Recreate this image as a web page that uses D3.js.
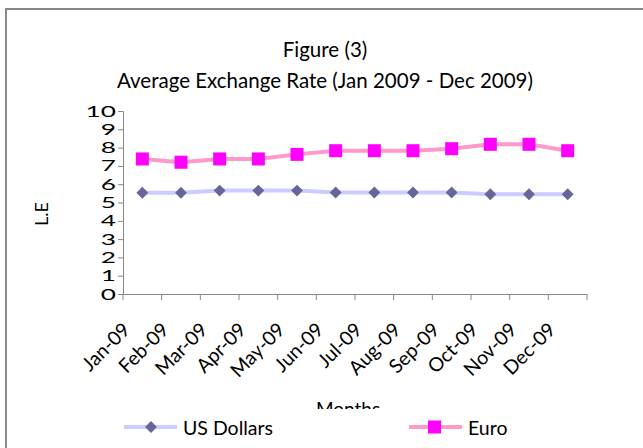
<!DOCTYPE html>
<html><head><meta charset="utf-8">
<script src="https://cdn.jsdelivr.net/npm/d3@7"></script>
<style>body{margin:0;background:#fff}svg{display:block}text{font-family:Lato,"Open Sans",sans-serif;fill:#000}</style>
</head><body><svg id="c" width="643" height="448"></svg>
<script>
const months = ["Jan-09","Feb-09","Mar-09","Apr-09","May-09","Jun-09","Jul-09","Aug-09","Sep-09","Oct-09","Nov-09","Dec-09"];
const usd = [5.53,5.53,5.65,5.65,5.65,5.55,5.55,5.55,5.55,5.45,5.45,5.45];
const euro = [7.38,7.2,7.38,7.38,7.63,7.83,7.83,7.83,7.94,8.18,8.18,7.83];
const yTicks = [0,1,2,3,4,5,6,7,8,9,10];
const seriesNames = ["US Dollars","Euro"];

const svg = d3.select("#c");
svg.append("rect").attr("x",6).attr("y",9).attr("width",700).attr("height",500)
  .attr("fill","#fff").attr("stroke","#888").attr("stroke-width",2);

const x = d3.scaleBand().domain(months).range([123,587]);
const y = d3.scaleLinear().domain([0,10]).range([294,111]);

svg.append("text").attr("x",325).attr("y",57).attr("text-anchor","middle").attr("font-size",20.5).text("Figure (3)");
svg.append("text").attr("x",325).attr("y",88).attr("text-anchor","middle").attr("font-size",20.5).text("Average Exchange Rate (Jan 2009 - Dec 2009)");

const ya = svg.append("g").attr("transform","translate(123,0)")
  .call(d3.axisLeft(y).tickValues(yTicks).tickSize(5).tickFormat(""));
ya.select(".domain").attr("stroke","#888");
ya.selectAll(".tick line").attr("stroke","#888");
svg.append("g").selectAll("text").data(yTicks).join("text")
  .attr("transform",d=>`translate(116,${y(d)+5.5}) scale(1.75,1)`)
  .attr("text-anchor","end").attr("font-size",15).text(d=>d);

const xa = svg.append("g").attr("transform","translate(0,294)")
  .call(d3.axisBottom(x).tickSize(0).tickFormat(""));
xa.select(".domain").attr("stroke","#888");
xa.selectAll(".tick").remove();
const bounds = months.map(m=>x(m)).concat([x.range()[1]]);
svg.append("g").selectAll("line").data(bounds).join("line")
  .attr("x1",d=>d).attr("x2",d=>d).attr("y1",294).attr("y2",300).attr("stroke","#888");
svg.append("g").selectAll("text").data(months).join("text")
  .attr("font-size",19.5).attr("text-anchor","end")
  .attr("transform",d=>`translate(${x(d)+x.bandwidth()/2-11},${331}) rotate(-45)`)
  .text(d=>d);

svg.append("clipPath").attr("id","cl").append("rect").attr("x",0).attr("y",0).attr("width",643).attr("height",409);
svg.append("text").attr("x",348).attr("y",416).attr("text-anchor","middle").attr("font-size",19)
  .attr("clip-path","url(#cl)").text("Months");
svg.append("text").attr("transform","translate(48,214) rotate(-90)").attr("text-anchor","middle").attr("font-size",18).text("L.E");

const cx = d=>x(d)+x.bandwidth()/2;
const line = d3.line().x((d,i)=>cx(months[i])).y(d=>y(d));
svg.append("path").datum(usd).attr("d",line).attr("fill","none").attr("stroke","#ccccff").attr("stroke-width",4);
svg.append("path").datum(euro).attr("d",line).attr("fill","none").attr("stroke","#ff99cc").attr("stroke-width",4);
const diamond = d3.symbol().type(d3.symbolDiamond2).size(90);
svg.append("g").selectAll("path").data(usd).join("path")
  .attr("d",diamond).attr("transform",(d,i)=>`translate(${cx(months[i])},${y(d)})`).attr("fill","#666699");
svg.append("g").selectAll("rect").data(euro).join("rect")
  .attr("x",(d,i)=>cx(months[i])-6.5).attr("y",d=>y(d)-6.5).attr("width",13).attr("height",13).attr("fill","#ff00ff");

const lg = svg.append("g");
lg.append("line").attr("x1",124).attr("x2",177).attr("y1",427).attr("y2",427).attr("stroke","#ccccff").attr("stroke-width",4);
lg.append("path").attr("d",diamond).attr("transform","translate(151,427)").attr("fill","#666699");
lg.append("text").attr("x",183).attr("y",435).attr("font-size",19.5).text(seriesNames[0]);
lg.append("line").attr("x1",409).attr("x2",462).attr("y1",427).attr("y2",427).attr("stroke","#ff99cc").attr("stroke-width",4);
lg.append("rect").attr("x",428).attr("y",420.5).attr("width",13).attr("height",13).attr("fill","#ff00ff");
lg.append("text").attr("x",468).attr("y",435).attr("font-size",19.5).text(seriesNames[1]);
</script></body></html>
